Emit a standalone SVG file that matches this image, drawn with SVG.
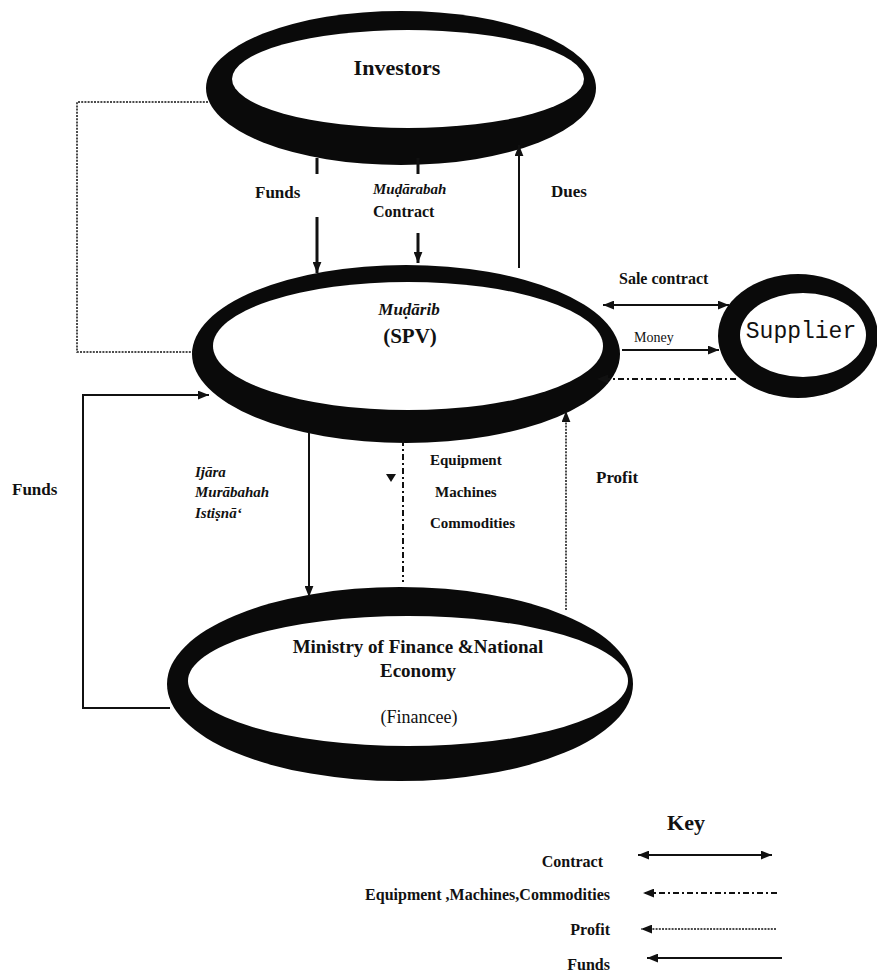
<svg xmlns="http://www.w3.org/2000/svg" width="877" height="977" viewBox="0 0 877 977">
<style>
.ring{fill:#0a0a0a}
.hole{fill:#ffffff}
.t{font-family:"Liberation Serif","Times New Roman",serif;font-weight:bold;fill:#111}
.ti{font-family:"Liberation Serif","Times New Roman",serif;font-weight:bold;font-style:italic;fill:#111}
.tr{font-family:"Liberation Serif","Times New Roman",serif;fill:#111}
.mono{font-family:"Liberation Mono","Courier New",monospace;fill:#111}
.solid{stroke:#111;stroke-width:2;fill:none}
.thick{stroke:#111;stroke-width:3;fill:none}
.dot{stroke:#111;stroke-width:1.5;fill:none;stroke-dasharray:2 1.2}
.dashdot{stroke:#111;stroke-width:2;fill:none;stroke-dasharray:6 3 2 3}
</style>
<defs>
<marker id="ah" viewBox="0 0 10 8" refX="10" refY="4" markerWidth="11" markerHeight="9" markerUnits="userSpaceOnUse" orient="auto-start-reverse">
<path d="M0,0 L10,4 L0,8 Z" fill="#111"/>
</marker>
</defs>
<rect width="877" height="977" fill="#ffffff"/>

<g id="investors">
<ellipse class="ring" cx="401" cy="88" rx="195" ry="77"/>
<ellipse class="hole" cx="408" cy="79" rx="176" ry="49"/>
<text class="t" x="397" y="75" font-size="22" text-anchor="middle">Investors</text>
</g>

<g id="mudarib">
<ellipse class="ring" cx="406" cy="354" rx="214" ry="89"/>
<ellipse class="hole" cx="408" cy="346" rx="195" ry="64"/>
<text class="ti" x="409" y="315" font-size="17" text-anchor="middle">Muḍārib</text>
<text class="t" x="410" y="343" font-size="21" text-anchor="middle">(SPV)</text>
</g>

<g id="supplier">
<ellipse class="ring" cx="798" cy="336" rx="80" ry="62"/>
<ellipse class="hole" cx="803" cy="335" rx="63" ry="42"/>
<text class="mono" x="801" y="338" font-size="23" text-anchor="middle">Supplier</text>
</g>

<g id="ministry">
<ellipse class="ring" cx="400" cy="684" rx="233" ry="97"/>
<ellipse class="hole" cx="408" cy="681" rx="220" ry="65"/>
<text class="t" x="418" y="653" font-size="19" text-anchor="middle">Ministry of Finance &amp;National</text>
<text class="t" x="418" y="677" font-size="19" text-anchor="middle">Economy</text>
<text class="tr" x="419" y="723" font-size="18" text-anchor="middle">(Financee)</text>
</g>

<g id="connectors">
<line class="thick" x1="317" y1="158" x2="317" y2="174"/>
<line class="thick" x1="317" y1="217" x2="317" y2="273" marker-end="url(#ah)"/>
<line class="thick" x1="418" y1="158" x2="418" y2="174"/>
<line class="thick" x1="418" y1="233" x2="418" y2="263" marker-end="url(#ah)"/>
<line class="solid" x1="519" y1="268" x2="519" y2="145" marker-end="url(#ah)"/>
<polyline class="dot" points="208,102 77,102 77,352 196,352"/>
<polyline class="solid" points="170,708 83,708 83,395 209,395" marker-end="url(#ah)"/>
<line class="solid" x1="603" y1="305" x2="729" y2="305" marker-start="url(#ah)" marker-end="url(#ah)"/>
<line class="solid" x1="622" y1="350" x2="719" y2="350" marker-end="url(#ah)"/>
<line class="dashdot" x1="736" y1="379" x2="597" y2="379" marker-end="url(#ah)"/>
<line class="solid" x1="309" y1="432" x2="309" y2="597" marker-end="url(#ah)"/>
<line class="dashdot" x1="403" y1="440" x2="403" y2="582"/>
<polygon points="386,474 396,474 391,482" fill="#111"/>
<line class="dot" x1="566" y1="610" x2="566" y2="411" marker-end="url(#ah)"/>
</g>

<g id="labels">
<text class="t" x="255" y="198" font-size="17">Funds</text>
<text class="ti" x="373" y="194" font-size="15">Muḍārabah</text>
<text class="t" x="373" y="217" font-size="16">Contract</text>
<text class="t" x="551" y="197" font-size="17">Dues</text>
<text class="t" x="619" y="284" font-size="16">Sale contract</text>
<text class="tr" x="634" y="342" font-size="14">Money</text>
<text class="t" x="12" y="495" font-size="17">Funds</text>
<text class="ti" x="195" y="477" font-size="15">Ijāra</text>
<text class="ti" x="195" y="497" font-size="15">Murābahah</text>
<text class="ti" x="195" y="518" font-size="15">Istiṣnā‘</text>
<text class="t" x="430" y="465" font-size="15">Equipment</text>
<text class="t" x="435" y="497" font-size="15">Machines</text>
<text class="t" x="430" y="528" font-size="15">Commodities</text>
<text class="t" x="596" y="483" font-size="17">Profit</text>
</g>

<g id="key">
<text class="t" x="686" y="830" font-size="22" text-anchor="middle">Key</text>
<text class="t" x="603" y="867" font-size="16" text-anchor="end">Contract</text>
<line class="solid" x1="638" y1="855" x2="772" y2="855" marker-start="url(#ah)" marker-end="url(#ah)"/>
<text class="t" x="610" y="900" font-size="16" text-anchor="end">Equipment ,Machines,Commodities</text>
<line class="dashdot" x1="777" y1="893" x2="643" y2="893" marker-end="url(#ah)"/>
<text class="t" x="610" y="935" font-size="16" text-anchor="end">Profit</text>
<line class="dot" x1="776" y1="929" x2="641" y2="929" marker-end="url(#ah)"/>
<text class="t" x="610" y="970" font-size="16" text-anchor="end">Funds</text>
<line class="solid" x1="782" y1="958" x2="647" y2="958" marker-end="url(#ah)"/>
</g>
</svg>
